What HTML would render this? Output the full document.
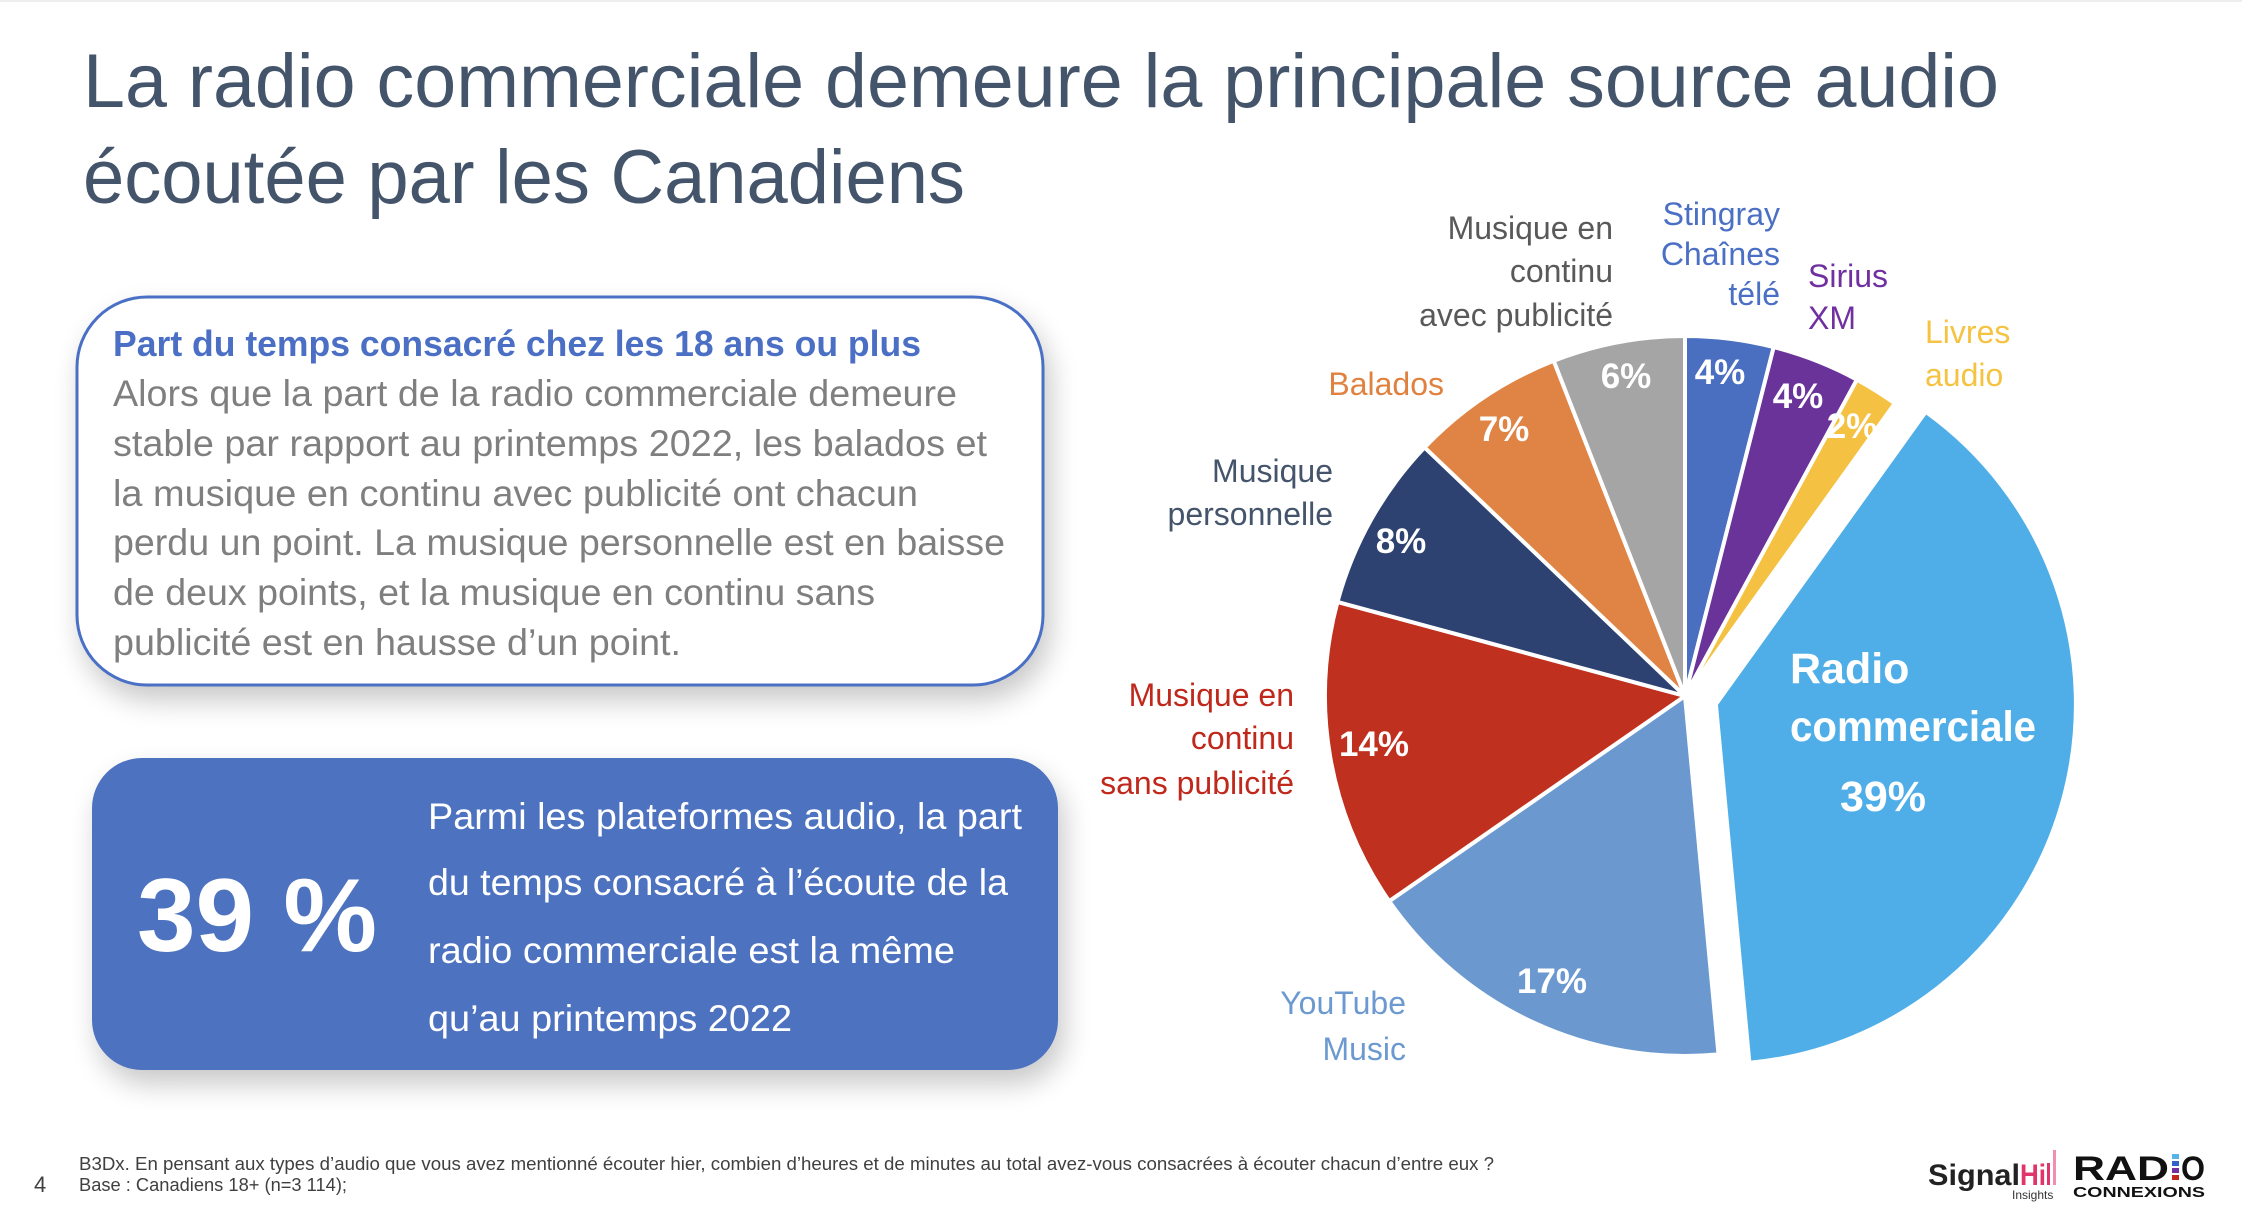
<!DOCTYPE html>
<html><head><meta charset="utf-8"><style>
html,body{margin:0;padding:0;background:#fff;}
svg{display:block;font-family:"Liberation Sans",sans-serif;}
</style></head><body>
<svg id="s" width="2242" height="1218" viewBox="0 0 2242 1218" xmlns="http://www.w3.org/2000/svg">
<defs>
<filter id="sh" x="-10%" y="-10%" width="125%" height="135%"><feGaussianBlur in="SourceAlpha" stdDeviation="14"/><feOffset dx="6" dy="14"/><feComponentTransfer><feFuncA type="linear" slope="0.22"/></feComponentTransfer><feMerge><feMergeNode/><feMergeNode in="SourceGraphic"/></feMerge></filter>
</defs>
<line x1="0" y1="1" x2="2242" y2="1" stroke="#eee" stroke-width="2"/>
<g fill="#44546a" font-size="76">
<text x="83" y="107" textLength="1916" lengthAdjust="spacingAndGlyphs">La radio commerciale demeure la principale source audio</text>
<text x="83" y="203" textLength="882" lengthAdjust="spacingAndGlyphs">écoutée par les Canadiens</text>
</g>
<rect x="77" y="297" width="966" height="388" rx="70" fill="#fff" stroke="#4a6fc4" stroke-width="3" filter="url(#sh)"/>
<text x="113" y="356" font-size="36" font-weight="bold" fill="#4a6fc4" textLength="808" lengthAdjust="spacingAndGlyphs">Part du temps consacré chez les 18 ans ou plus</text>
<g fill="#7f7f7f" font-size="37">
<text x="113" y="406" textLength="844" lengthAdjust="spacingAndGlyphs">Alors que la part de la radio commerciale demeure</text>
<text x="113" y="456" textLength="874" lengthAdjust="spacingAndGlyphs">stable par rapport au printemps 2022, les balados et</text>
<text x="113" y="506" textLength="805" lengthAdjust="spacingAndGlyphs">la musique en continu avec publicité ont chacun</text>
<text x="113" y="555" textLength="892" lengthAdjust="spacingAndGlyphs">perdu un point. La musique personnelle est en baisse</text>
<text x="113" y="605" textLength="762" lengthAdjust="spacingAndGlyphs">de deux points, et la musique en continu sans</text>
<text x="113" y="655" textLength="568" lengthAdjust="spacingAndGlyphs">publicité est en hausse d’un point.</text>
</g>
<rect x="92" y="758" width="966" height="312" rx="50" fill="#4e72c0" filter="url(#sh)"/>
<text x="137" y="951" font-size="104" font-weight="bold" fill="#fff" textLength="240" lengthAdjust="spacingAndGlyphs">39 %</text>
<g fill="#fff" font-size="37">
<text x="428" y="829" textLength="594" lengthAdjust="spacingAndGlyphs">Parmi les plateformes audio, la part</text>
<text x="428" y="895" textLength="580" lengthAdjust="spacingAndGlyphs">du temps consacré à l’écoute de la</text>
<text x="428" y="963" textLength="527" lengthAdjust="spacingAndGlyphs">radio commerciale est la même</text>
<text x="428" y="1031" textLength="364" lengthAdjust="spacingAndGlyphs">qu’au printemps 2022</text>
</g>
<g id="pie"></g>
<g font-size="32" text-anchor="end">
<text fill="#595959"><tspan x="1613" y="239">Musique en</tspan><tspan x="1613" y="282">continu</tspan><tspan x="1613" y="326">avec publicité</tspan></text>
<text fill="#4a6fc4"><tspan x="1780" y="225">Stingray</tspan><tspan x="1780" y="265">Chaînes</tspan><tspan x="1780" y="305">télé</tspan></text>
<text fill="#e0823f" x="1444" y="395">Balados</text>
<text fill="#44546a"><tspan x="1333" y="482">Musique</tspan><tspan x="1333" y="525">personnelle</tspan></text>
<text fill="#c0281c"><tspan x="1294" y="706">Musique en</tspan><tspan x="1294" y="749">continu</tspan><tspan x="1294" y="794">sans publicité</tspan></text>
<text fill="#6c9ad0"><tspan x="1406" y="1014">YouTube</tspan><tspan x="1406" y="1060">Music</tspan></text>
</g>
<g font-size="32">
<text fill="#7030a0"><tspan x="1808" y="287">Sirius</tspan><tspan x="1808" y="329">XM</tspan></text>
<text fill="#f5c342"><tspan x="1925" y="343">Livres</tspan><tspan x="1925" y="386">audio</tspan></text>
</g>
<g fill="#fff" font-weight="bold" font-size="35" text-anchor="middle">
<text x="1720" y="384">4%</text>
<text x="1798" y="408">4%</text>
<text x="1852" y="438">2%</text>
<text x="1626" y="388">6%</text>
<text x="1504" y="441">7%</text>
<text x="1401" y="553">8%</text>
<text x="1374" y="756">14%</text>
<text x="1552" y="993">17%</text>
</g>
<g fill="#fff" font-weight="bold" font-size="43">
<text x="1790" y="683">Radio</text>
<text x="1790" y="741" textLength="246" lengthAdjust="spacingAndGlyphs">commerciale</text>
<text x="1883" y="811" text-anchor="middle">39%</text>
</g>
<text x="34" y="1192" font-size="22" fill="#404040">4</text>
<g font-size="18" fill="#404040">
<text x="79" y="1170" textLength="1415" lengthAdjust="spacingAndGlyphs">B3Dx. En pensant aux types d’audio que vous avez mentionné écouter hier, combien d’heures et de minutes au total avez-vous consacrées à écouter chacun d’entre eux ?</text>
<text x="79" y="1191" textLength="268" lengthAdjust="spacingAndGlyphs">Base : Canadiens 18+ (n=3 114);</text>
</g>
<g>
<text x="1928" y="1185" font-size="30" font-weight="bold" fill="#222" textLength="92" lengthAdjust="spacingAndGlyphs">Signal</text>
<text x="2020" y="1185" font-size="30" font-weight="bold" fill="#e0356b" textLength="26" lengthAdjust="spacingAndGlyphs">Hi</text>
<rect x="2047" y="1163" width="3" height="22" fill="#e0356b"/><rect x="2053" y="1150" width="3" height="35" fill="#f08fb0"/>
<text x="2012" y="1199" font-size="12" fill="#333">Insights</text>
<text x="2073" y="1180" font-size="34" font-weight="bold" fill="#111" textLength="96" lengthAdjust="spacingAndGlyphs">RAD</text>
<rect x="2172" y="1154" width="7" height="5" fill="#56b4e9"/><rect x="2172" y="1161" width="7" height="5" fill="#2e64c8"/><rect x="2172" y="1168" width="7" height="5" fill="#7030a0"/><rect x="2172" y="1175" width="7" height="5" fill="#c0281c"/>
<text x="2181" y="1180" font-size="34" font-weight="bold" fill="#111" textLength="24" lengthAdjust="spacingAndGlyphs">O</text>
<text x="2073" y="1197" font-size="15" font-weight="bold" fill="#111" textLength="132" lengthAdjust="spacingAndGlyphs">CONNEXIONS</text>
</g>
</svg>
<script>
(function(){
var cx=1685,cy=696,r=360;
var d=[[4,"#4a6fc0"],[4,"#6a3399"],[2,"#f4c142"],[39,"#4faee8"],[17,"#6b99cf"],[14,"#c0301e"],[8,"#2e4272"],[7,"#df8444"],[6,"#a5a5a5"]];
var g=document.getElementById("pie"),a=0,ns="http://www.w3.org/2000/svg";
d.forEach(function(s,i){
 var a0=a,a1=a+s[0]/101*360;a=a1;
 var ox=0,oy=0;
 if(i==3){var m=(a0+a1)/2*Math.PI/180;ox=32*Math.sin(m);oy=-32*Math.cos(m);}
 function p(t){t=t*Math.PI/180;return (cx+ox+r*Math.sin(t)).toFixed(1)+","+(cy+oy-r*Math.cos(t)).toFixed(1);}
 var path=document.createElementNS(ns,"path");
 path.setAttribute("d","M"+(cx+ox)+","+(cy+oy)+" L"+p(a0)+" A"+r+","+r+" 0 "+((a1-a0)>180?1:0)+",1 "+p(a1)+" Z");
 path.setAttribute("fill",s[1]);path.setAttribute("stroke","#fff");path.setAttribute("stroke-width","4");path.setAttribute("stroke-linejoin","round");
 g.appendChild(path);
});
})();
</script>
</body></html>
